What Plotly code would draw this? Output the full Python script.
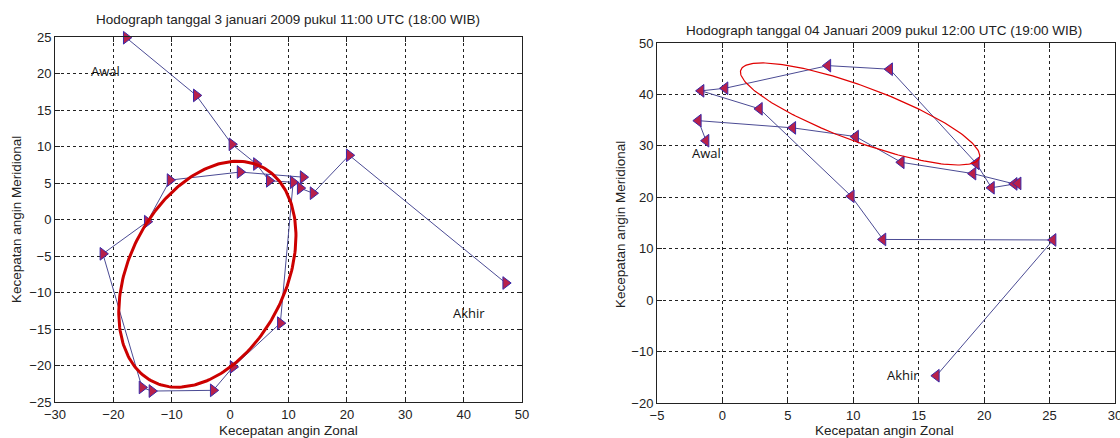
import numpy as np
import plotly.graph_objects as go

# ---- Data: left hodograph (3 Jan 2009 11:00 UTC), in path order (Awal -> Akhir)
left_u = [-17.8, -5.8, 0.3, 4.5, 6.7, 10.8, 8.6, 0.5, -2.9, -13.4, -15.1, -21.8,
          -14.2, -10.3, 1.7, 12.5, 12.0, 14.2, 20.4, 47.2]
left_v = [24.9, 17.0, 10.3, 7.6, 5.3, 5.1, -14.2, -20.2, -23.4, -23.5, -23.0, -4.7,
          -0.3, 5.4, 6.5, 5.8, 4.3, 3.6, 8.8, -8.7]

# ---- Data: right hodograph (04 Jan 2009 12:00 UTC), in path order (Awal -> Akhir)
right_u = [-1.25, -1.84, 5.38, 10.18, 13.67, 19.15, 22.3, 22.6, 20.56, 19.4,
           12.78, 8.06, 0.2, -1.63, 2.83, 9.85, 12.27, 25.27, 16.35]
right_v = [31.0, 34.9, 33.5, 31.8, 26.8, 24.6, 22.6, 22.7, 21.85, 26.6,
           44.9, 45.6, 41.2, 40.7, 37.2, 20.2, 11.8, 11.7, -14.7]

left_title = "Hodograph tanggal 3 januari 2009 pukul 11:00 UTC (18:00 WIB)"
right_title = "Hodograph tanggal 04 Januari 2009 pukul 12:00 UTC (19:00 WIB)"
xlabel = "Kecepatan angin Zonal"
ylabel = "Kecepatan angin Meridional"

# Highlight ellipses (center, covariance in data units)
left_ell_center = (-3.9, -7.5)
left_ell_cov = [[230.4, 79.65], [79.65, 239.6]]
right_ell_center = (10.52, 36.2)
right_ell_cov = [[83.6, -74.4], [-74.4, 98.4]]


def ellipse(center, cov, n=240):
    vals, vecs = np.linalg.eigh(np.array(cov))
    t = np.linspace(0, 2 * np.pi, n)
    circ = np.vstack([np.cos(t), np.sin(t)])
    pts = vecs @ (np.sqrt(vals)[:, None] * circ)
    return pts[0] + center[0], pts[1] + center[1]


LINE_COL = "#4b4b94"
MARK_FILL = "#b8204a"
MARK_EDGE = "#3a2aa8"
FONT = "Liberation Sans, Arial, sans-serif"

fig = go.Figure()

lex, ley = ellipse(left_ell_center, left_ell_cov)
rex, rey = ellipse(right_ell_center, right_ell_cov)

fig.add_trace(go.Scatter(x=left_u, y=left_v, mode="lines+markers", xaxis="x", yaxis="y",
                         line=dict(color=LINE_COL, width=1),
                         marker=dict(symbol="triangle-right", size=11, color=MARK_FILL,
                                     line=dict(color=MARK_EDGE, width=1)),
                         cliponaxis=False, showlegend=False))
fig.add_trace(go.Scatter(x=lex, y=ley, mode="lines", xaxis="x", yaxis="y",
                         line=dict(color="#cc0000", width=3), showlegend=False))

fig.add_trace(go.Scatter(x=right_u, y=right_v, mode="lines+markers", xaxis="x2", yaxis="y2",
                         line=dict(color=LINE_COL, width=1),
                         marker=dict(symbol="triangle-left", size=11, color=MARK_FILL,
                                     line=dict(color=MARK_EDGE, width=1)),
                         cliponaxis=False, showlegend=False))
fig.add_trace(go.Scatter(x=rex, y=rey, mode="lines", xaxis="x2", yaxis="y2",
                         line=dict(color="#e00000", width=1.2), showlegend=False))

axis_common = dict(showgrid=True, gridcolor="#222222", griddash="dot", gridwidth=1,
                   zeroline=False, showline=True, linecolor="#222222", linewidth=1,
                   mirror="ticks", ticks="inside", ticklen=5, tickcolor="#222222",
                   automargin=False, ticklabeloverflow="allow",
                   tickfont=dict(family=FONT, size=13, color="#222222"))

fig.update_layout(
    width=1120, height=438,
    margin=dict(l=0, r=0, t=0, b=0),
    paper_bgcolor="white", plot_bgcolor="white",
    xaxis=dict(domain=[55 / 1120, 522 / 1120], range=[-30, 50], dtick=10, tick0=-30,
               anchor="y", **axis_common),
    yaxis=dict(domain=[1 - 402 / 438, 1 - 37 / 438], range=[-25, 25], dtick=5, tick0=-25,
               anchor="x", **axis_common),
    xaxis2=dict(domain=[657 / 1120, 1115 / 1120], range=[-5, 30], dtick=5, tick0=-5,
                anchor="y2", **axis_common),
    yaxis2=dict(domain=[1 - 403 / 438, 1 - 43 / 438], range=[-20, 50], dtick=10, tick0=-20,
                anchor="x2", **axis_common),
)

ann_font = dict(family=FONT, size=13.5, color="#222222")
lbl_font = dict(family="Open Sans, Liberation Sans, sans-serif", size=13, color="#111111")
annotations = [
    dict(text=left_title, x=288 / 1120, y=1 - 19 / 438, xref="paper", yref="paper",
         showarrow=False, font=ann_font, xanchor="center", yanchor="middle"),
    dict(text=right_title, x=884 / 1120, y=1 - 30 / 438, xref="paper", yref="paper",
         showarrow=False, font=ann_font, xanchor="center", yanchor="middle"),
    dict(text=xlabel, x=288 / 1120, y=1 - 430 / 438, xref="paper", yref="paper",
         showarrow=False, font=ann_font, xanchor="center", yanchor="middle"),
    dict(text=xlabel, x=884 / 1120, y=1 - 430 / 438, xref="paper", yref="paper",
         showarrow=False, font=ann_font, xanchor="center", yanchor="middle"),
    dict(text=ylabel, x=16 / 1120, y=1 - 220 / 438, xref="paper", yref="paper",
         showarrow=False, font=ann_font, textangle=-90, xanchor="center", yanchor="middle"),
    dict(text=ylabel, x=620 / 1120, y=1 - 225 / 438, xref="paper", yref="paper",
         showarrow=False, font=ann_font, textangle=-90, xanchor="center", yanchor="middle"),
    dict(text="Awal", x=-21.3, y=20.4, xref="x", yref="y", showarrow=False, font=lbl_font),
    dict(text="Akhir", x=41.0, y=-12.8, xref="x", yref="y", showarrow=False, font=lbl_font),
    dict(text="Awal", x=-1.2, y=28.6, xref="x2", yref="y2", showarrow=False, font=lbl_font),
    dict(text="Akhir", x=13.8, y=-14.6, xref="x2", yref="y2", showarrow=False, font=lbl_font),
]
fig.update_layout(annotations=annotations)

fig.write_html("out.html", config={"displayModeBar": False},
               post_script="document.body.style.margin='0';document.body.style.padding='0';"
                           "document.body.style.overflow='hidden';")
